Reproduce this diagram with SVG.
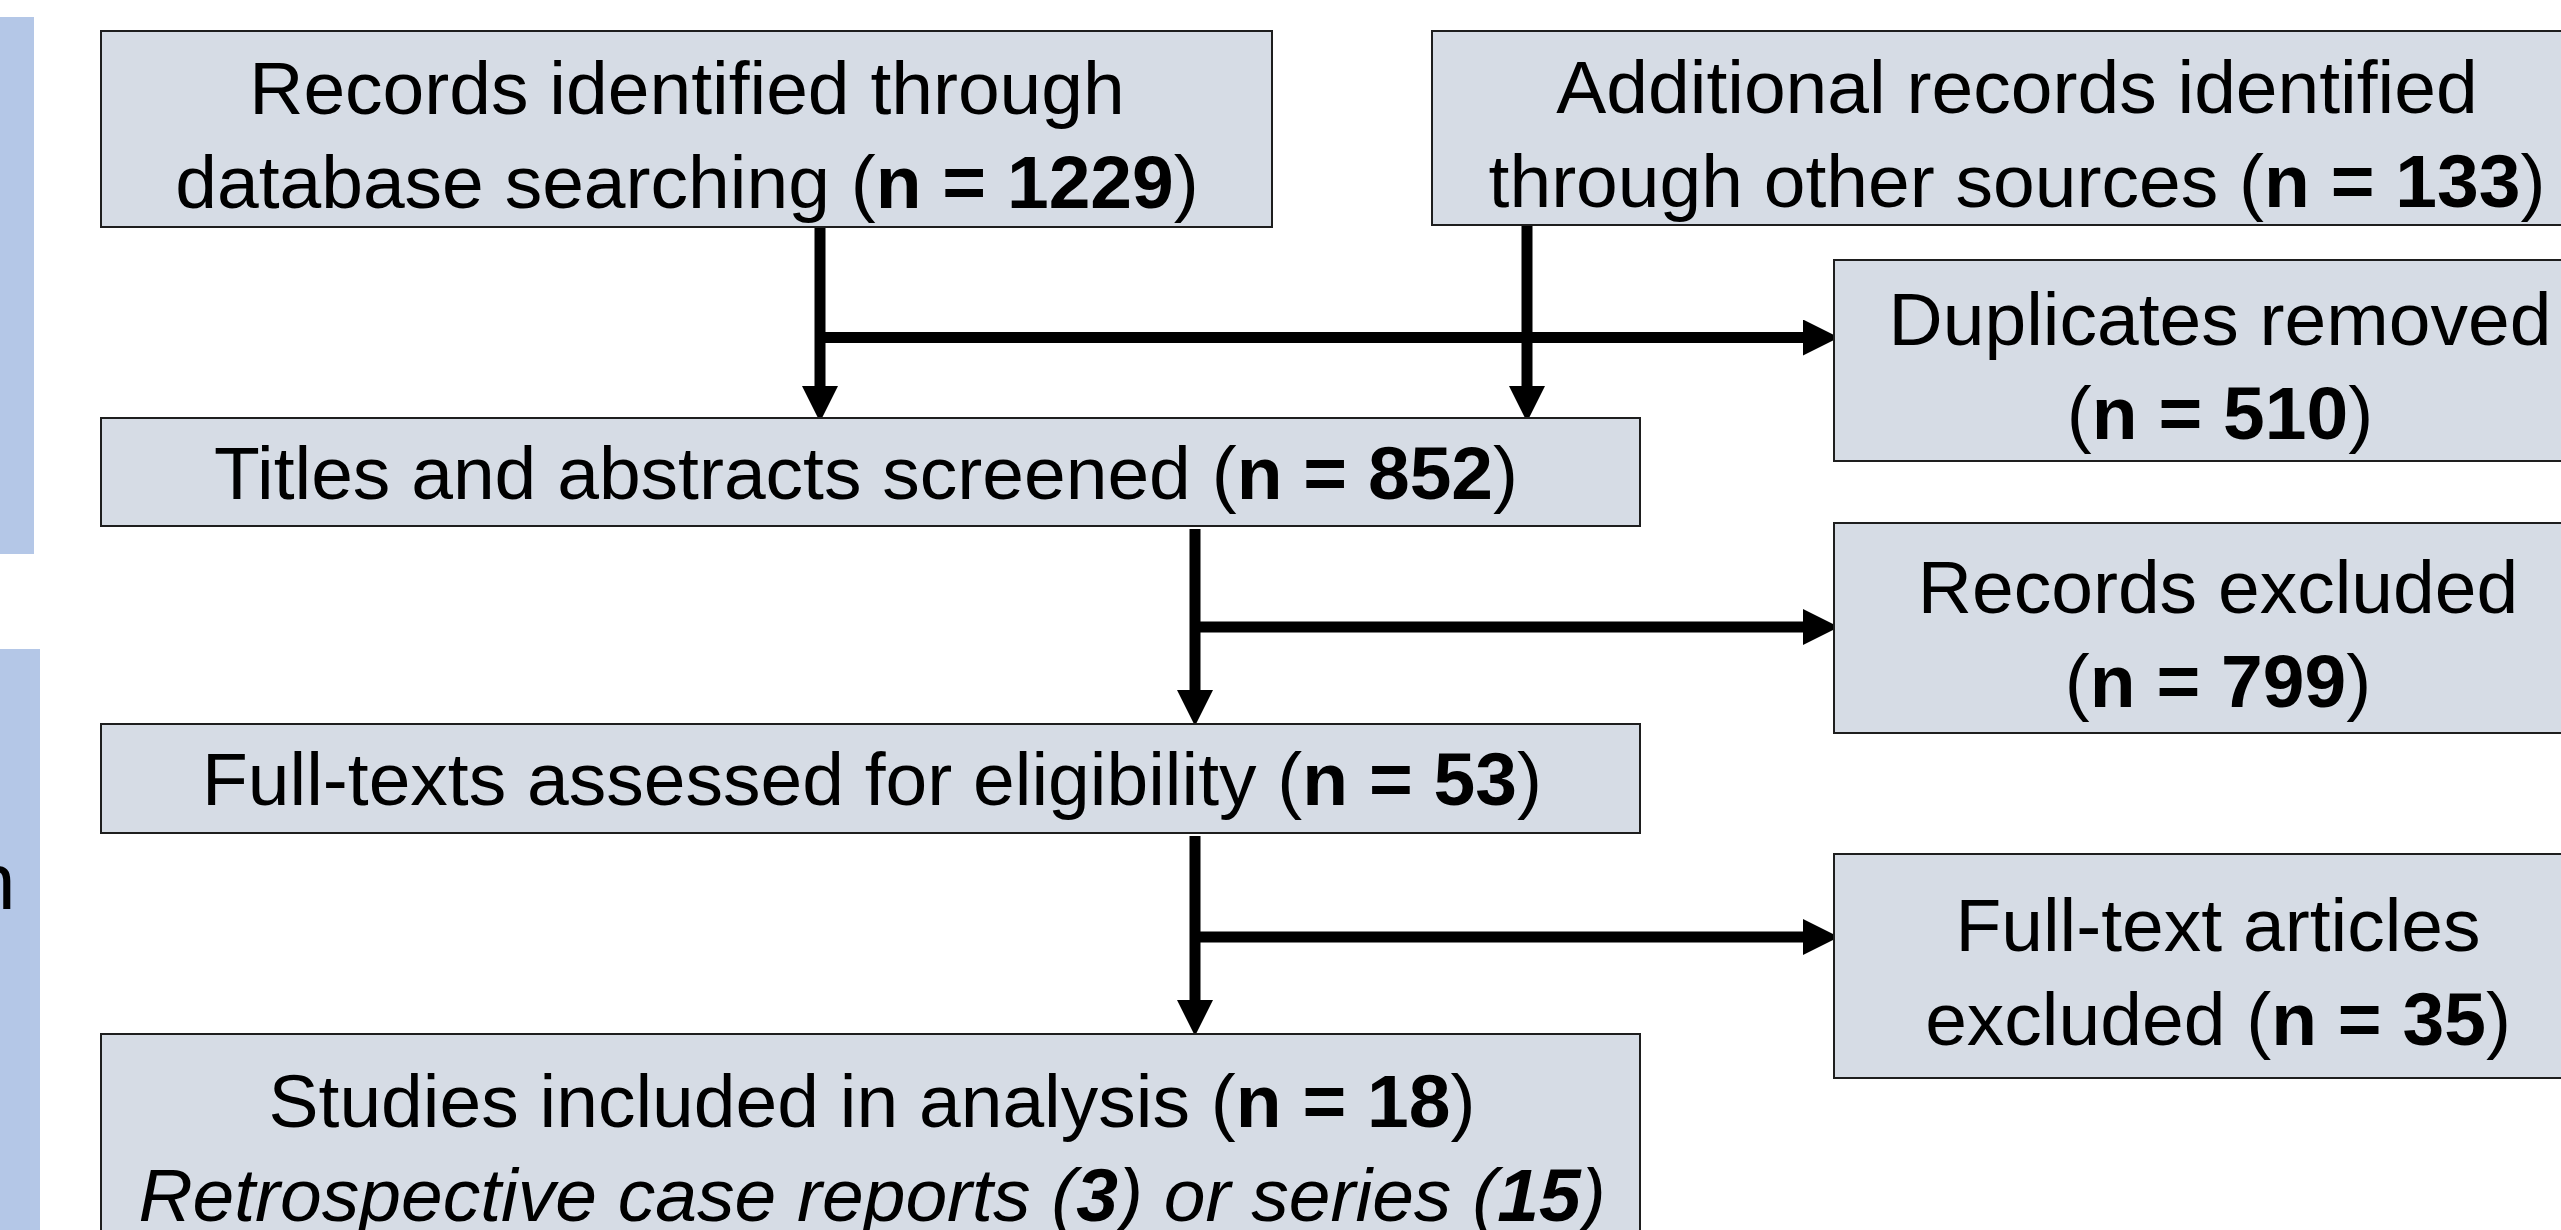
<svg xmlns="http://www.w3.org/2000/svg" width="2561" height="1230" viewBox="0 0 2561 1230">
<style>
.bar{fill:#b4c7e7}
.box{fill:#d6dce5;stroke:#1e1e1e;stroke-width:2}
.t{font-family:"Liberation Sans",Arial,sans-serif;font-size:75px;fill:#000;text-anchor:middle}
.b{font-weight:bold}
.i{font-style:italic}
.c{fill:none;stroke:#000;stroke-width:11}
</style>
<defs>
<marker id="ah" markerUnits="userSpaceOnUse" markerWidth="36" markerHeight="36" viewBox="0 0 36 36" refX="0" refY="18" orient="auto">
<path d="M0,0 L36,18 L0,36 z" fill="#000"/>
</marker>
</defs>
<rect class="bar" x="0" y="0" width="2561" height="1230" fill="#fff" style="fill:#fff"/>
<g id="bar1"><rect class="bar" x="0" y="17" width="34" height="537"/></g>
<g id="bar2"><rect class="bar" x="0" y="649" width="40" height="590"/>
<text x="-29" y="909" style="font-family:'Liberation Sans',Arial,sans-serif;font-size:80px">n</text></g>
<g id="connectors">
<path class="c" d="M820,227 V386" marker-end="url(#ah)"/>
<path class="c" d="M1527,226 V386" marker-end="url(#ah)"/>
<path class="c" d="M820,337.5 H1803" marker-end="url(#ah)"/>
<path class="c" d="M1195,529 V690" marker-end="url(#ah)"/>
<path class="c" d="M1195,627 H1803" marker-end="url(#ah)"/>
<path class="c" d="M1195,836 V1000" marker-end="url(#ah)"/>
<path class="c" d="M1195,937 H1803" marker-end="url(#ah)"/>
</g>
<g id="n1"><rect class="box" x="101" y="31" width="1171" height="196"/>
<text class="t" x="687" y="114">Records identified through</text>
<text class="t" x="687" y="208">database searching (<tspan class="b">n = 1229</tspan>)</text></g>
<g id="n2"><rect class="box" x="1432" y="31" width="1170" height="194"/>
<text class="t" x="2017" y="113">Additional records identified</text>
<text class="t" x="2017" y="207">through other sources (<tspan class="b">n = 133</tspan>)</text></g>
<g id="n3"><rect class="box" x="1834" y="260" width="772" height="201"/>
<text class="t" x="2220" y="345">Duplicates removed</text>
<text class="t" x="2220" y="439">(<tspan class="b">n = 510</tspan>)</text></g>
<g id="n4"><rect class="box" x="101" y="418" width="1539" height="108"/>
<text class="t" x="866" y="499">Titles and abstracts screened (<tspan class="b">n = 852</tspan>)</text></g>
<g id="n5"><rect class="box" x="1834" y="523" width="772" height="210"/>
<text class="t" x="2218" y="613">Records excluded</text>
<text class="t" x="2218" y="707">(<tspan class="b">n = 799</tspan>)</text></g>
<g id="n6"><rect class="box" x="101" y="724" width="1539" height="109"/>
<text class="t" x="872" y="805">Full-texts assessed for eligibility (<tspan class="b">n = 53</tspan>)</text></g>
<g id="n7"><rect class="box" x="1834" y="854" width="772" height="224"/>
<text class="t" x="2218" y="951">Full-text articles</text>
<text class="t" x="2218" y="1045">excluded (<tspan class="b">n = 35</tspan>)</text></g>
<g id="n8"><rect class="box" x="101" y="1034" width="1539" height="230"/>
<text class="t" x="872" y="1127">Studies included in analysis (<tspan class="b">n = 18</tspan>)</text>
<text class="t i" x="872" y="1221">Retrospective case reports (<tspan class="b">3</tspan>) or series (<tspan class="b">15</tspan>)</text></g>
</svg>
